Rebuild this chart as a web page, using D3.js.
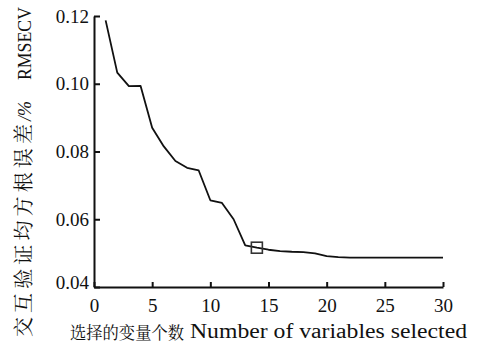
<!DOCTYPE html>
<html>
<head>
<meta charset="utf-8">
<script src="https://cdn.jsdelivr.net/npm/d3@7"></script>
<style>
  body { margin: 0; background: #fff; }
  svg { display: block; }
</style>
</head>
<body>
<svg id="chart" width="479" height="347"></svg>
<script>
// values
var nVars = [1, 2, 3, 4, 5, 6, 7, 8, 9, 10, 11, 12, 13, 14, 15, 16, 17, 18, 19, 20,
             21, 22, 23, 24, 25, 26, 27, 28, 29, 30]
var rmsecv = [0.1187, 0.1033, 0.0993, 0.0994, 0.0870, 0.0815, 0.0772, 0.0752, 0.0744, 0.0656,
              0.0648, 0.0600, 0.0523, 0.0516, 0.0510, 0.0506, 0.0504, 0.0503, 0.0499, 0.0491,
              0.0488, 0.0487, 0.0487, 0.0487, 0.0487, 0.0487, 0.0487, 0.0487, 0.0487, 0.0487]
var bestN = 14
var xTicks = [0, 5, 10, 15, 20, 25, 30]
var yTicks = [0.04, 0.06, 0.08, 0.10, 0.12]

var serif = 'Liberation Serif'
  , cjk = 'Noto Serif CJK SC'

var svg = d3.select('#chart')
  , x = d3.scaleLinear().domain([0, 30]).range([94, 443])
  , y = d3.scaleLinear().domain([0.04, 0.12]).range([287, 16])

// put the font both as attribute and inline style
var font = function(sel, fam, size) {
  sel.attr('font-family', fam).attr('font-size', size)
    .style('font-family', '"' + fam + '"').style('font-size', size + 'px').style('fill', '#111')
}

// axes: ticks point inward
var xAxis = svg.append('g')
  .attr('transform', 'translate(0,' + y(0.04) + ')')
  .call(d3.axisBottom(x).tickValues(xTicks).tickSizeInner(-5).tickSizeOuter(0).tickPadding(7))
xAxis.selectAll('text').attr('dy', '0.95em')

var yAxis = svg.append('g')
  .attr('transform', 'translate(' + x(0) + ',0)')
  .call(d3.axisLeft(y).tickValues(yTicks).tickFormat(d3.format('.2f')).tickSizeInner(-6).tickSizeOuter(0).tickPadding(5))
// the 0.04 label sits a bit higher so it doesn't run into the "0"
yAxis.selectAll('.tick text').attr('dy', function(d) { return d === 0.04 ? '0.1em' : '0.32em' })

svg.selectAll('g').attr('font-family', null).attr('font-size', null)
font(svg.selectAll('.tick text'), serif, 19)
svg.selectAll('.domain, .tick line').attr('stroke', '#111').attr('stroke-width', 2)

// curve
var line = d3.line()
  .x(function(d, i) { return x(nVars[i]) })
  .y(function(d) { return y(d) })
svg.append('path')
  .datum(rmsecv)
  .attr('d', line)
  .attr('fill', 'none')
  .attr('stroke', '#111')
  .attr('stroke-width', 1.8)
  .attr('stroke-linejoin', 'round')

// marker for the chosen number of variables
var bi = nVars.indexOf(bestN)
svg.append('rect')
  .attr('x', x(bestN) - 5.5)
  .attr('y', y(rmsecv[bi]) - 5.5)
  .attr('width', 11)
  .attr('height', 11)
  .attr('fill', 'none')
  .attr('stroke', '#333')
  .attr('stroke-width', 1.6)

// x title
svg.append('text')
  .attr('x', 70).attr('y', 339)
  .attr('textLength', 114).attr('lengthAdjust', 'spacingAndGlyphs')
  .call(font, cjk, 17)
  .text('选择的变量个数')
svg.append('text')
  .attr('x', 190).attr('y', 338)
  .attr('textLength', 277).attr('lengthAdjust', 'spacingAndGlyphs')
  .call(font, serif, 20)
  .text('Number of variables selected')

// y title, rotated, built from three pieces
var yTitle = svg.append('g').attr('transform', 'translate(31,0) rotate(-90)')
yTitle.append('text')
  .attr('x', -337).attr('y', 0)
  .attr('textLength', 213).attr('lengthAdjust', 'spacing')
  .call(font, cjk, 20)
  .text('交互验证均方根误差')
yTitle.append('text')
  .attr('x', -121).attr('y', 0)
  .call(font, serif, 18)
  .style('font-style', 'italic')
  .text('/%')
yTitle.append('text')
  .attr('x', -80).attr('y', 0)
  .attr('textLength', 73).attr('lengthAdjust', 'spacingAndGlyphs')
  .call(font, serif, 18)
  .text('RMSECV')
</script>
</body>
</html>
